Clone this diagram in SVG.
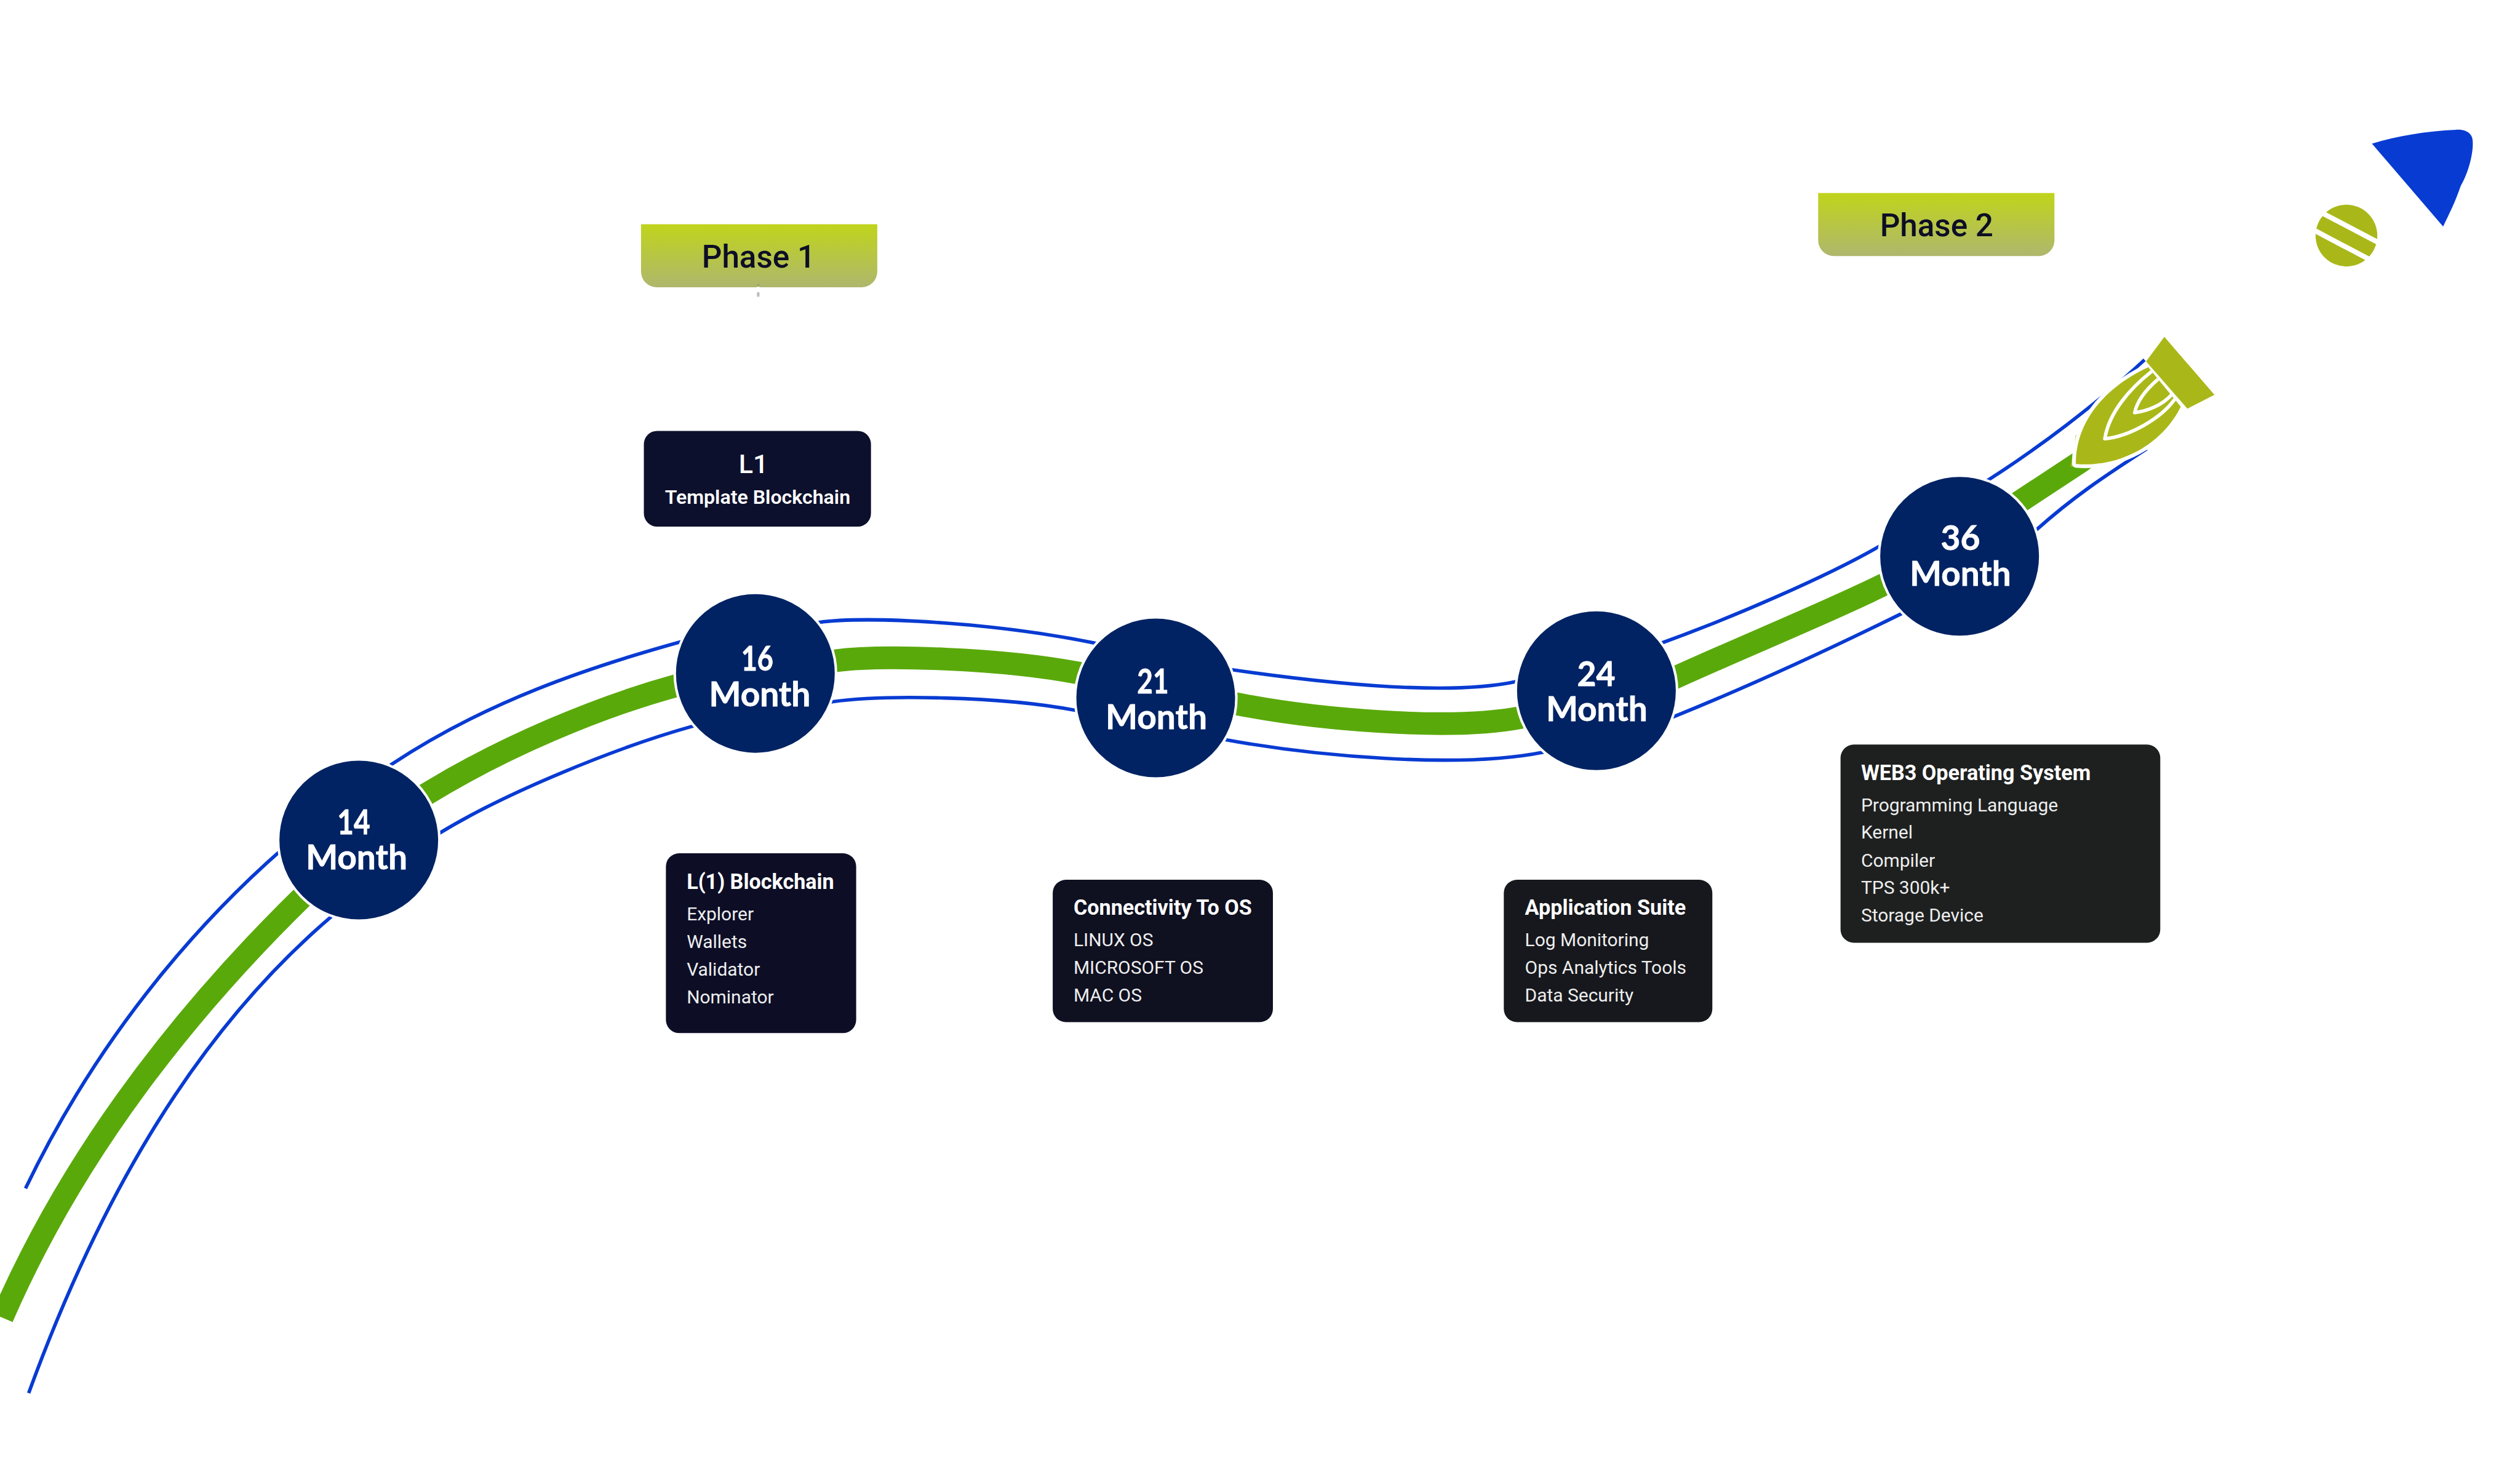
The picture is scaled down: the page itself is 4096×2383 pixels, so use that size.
<svg xmlns="http://www.w3.org/2000/svg" width="4096" height="2383" viewBox="0 0 4096 2383">
<defs>
<linearGradient id="phaseFill" x1="0" y1="0" x2="0" y2="1"><stop offset="0" stop-color="#c0d41b"/><stop offset="1" stop-color="#aeb76d"/></linearGradient>
<path id="phaseShape" d="M0,0H750V150A50,50 0 0 1 700,200H50A50,50 0 0 1 0,150Z" fill="url(#phaseFill)"/>
</defs>
<style>
text{font-family:Roboto,"Liberation Sans",sans-serif}
.blue{fill:none;stroke:#083bd2;stroke-width:11}
.green{fill:none;stroke:#5aa90b;stroke-width:72}
.ext{stroke-linecap:square}
.disc{fill:#012363;stroke:#fff;stroke-width:8}
.m{font-family:Lato,Inter,sans-serif;font-weight:700;font-size:110px;fill:#fff;stroke:#fff;stroke-width:1.500}
.ph{font-weight:500;font-size:100px;fill:#0d0e26;text-anchor:middle}
.t{font-weight:700;font-size:66.700px;fill:#fff}
.b{font-weight:400;font-size:58.500px;fill:#eee}
.olive{fill:#a9b818}
.cut{fill:none;stroke:#fff;stroke-width:11;stroke-linejoin:round}
</style>
<rect width="4096" height="2383" fill="#fff"/>
<g transform="scale(.512)">
<g id="connectors">
<path class="green" d="M7,4183C241.500,3643 609.500,3179 1030,2780"/>
<path class="green ext" d="M1351,2523C1600,2370 1900,2245 2143,2178"/>
<path class="green ext" d="M2650,2098C2800,2078 3180,2090 3425,2137"/>
<path class="green ext" d="M3923,2234C4170,2283 4600,2322 4827,2278"/>
<path class="green ext" d="M5319,2151C5540,2050 5800,1945 5982,1855"/>
<path class="green" d="M6395,1604L6606,1465L6680,1410"/>
<path class="blue" d="M81,3773C313,3289 667,2851 1100,2532"/>
<path class="blue ext" d="M1244,2426C1544,2227 1867,2119 2163,2037"/>
<path class="blue ext" d="M2599,1976C2750,1955 3150,1975 3477,2042"/>
<path class="blue ext" d="M3909,2126C4180,2165 4590,2212 4812,2164"/>
<path class="blue ext" d="M5276,2041C5500,1960 5800,1830 5965,1735"/>
<path class="blue ext" d="M6313,1523C6460,1430 6660,1280 6804,1146"/>
<path class="blue" d="M91,4423C297,3857 594,3300 1052,2910"/>
<path class="blue ext" d="M1397,2644C1600,2520 1950,2375 2201,2305"/>
<path class="blue ext" d="M2642,2228C2800,2205 3180,2210 3413,2255"/>
<path class="blue ext" d="M3889,2348C4170,2400 4630,2442 4899,2388"/>
<path class="blue ext" d="M5314,2275C5550,2180 5830,2050 6037,1948"/>
<path class="blue ext" d="M6465,1682C6590,1570 6700,1500 6810,1428"/>
</g>
<g id="month-14"><circle class="disc" cx="1139" cy="2667" r="256"/><text class="m" x="1071" y="2649" textLength="104" lengthAdjust="spacingAndGlyphs">14</text><text class="m" x="971" y="2760" textLength="322" lengthAdjust="spacingAndGlyphs">Month</text></g>
<g id="month-16"><circle class="disc" cx="2398" cy="2138" r="256"/><text class="m" x="2353" y="2129" textLength="102" lengthAdjust="spacingAndGlyphs">16</text><text class="m" x="2251" y="2242" textLength="322" lengthAdjust="spacingAndGlyphs">Month</text></g>
<g id="month-21"><circle class="disc" cx="3669" cy="2216" r="256"/><text class="m" x="3610" y="2202" textLength="100" lengthAdjust="spacingAndGlyphs">21</text><text class="m" x="3510" y="2315" textLength="322" lengthAdjust="spacingAndGlyphs">Month</text></g>
<g id="month-24"><circle class="disc" cx="5068" cy="2193" r="256"/><text class="m" x="5007" y="2177" textLength="121" lengthAdjust="spacingAndGlyphs">24</text><text class="m" x="4908" y="2289" textLength="322" lengthAdjust="spacingAndGlyphs">Month</text></g>
<g id="month-36"><circle class="disc" cx="6221" cy="1766" r="256"/><text class="m" x="6161" y="1747" textLength="125" lengthAdjust="spacingAndGlyphs">36</text><text class="m" x="6063" y="1860" textLength="321" lengthAdjust="spacingAndGlyphs">Month</text></g>
<g id="phase-1"><use href="#phaseShape" x="2035" y="712"/><text class="ph" x="2408" y="849">Phase 1</text><rect x="2403" y="902" width="8" height="8" fill="#a0a862"/><rect x="2403" y="910" width="8" height="18" fill="#fff"/><rect x="2403" y="928" width="8" height="14" fill="#bbb"/></g>
<g id="phase-2"><use href="#phaseShape" x="5772" y="613"/><text class="ph" x="6148" y="750">Phase 2</text></g>
<g id="box-l1"><rect x="2044" y="1368" width="721" height="304" rx="42" fill="#0d102c"/><text x="2392" y="1501" text-anchor="middle" font-size="84" font-weight="500" fill="#fff">L1</text><text x="2405" y="1600" text-anchor="middle" font-size="62.700" font-weight="600" fill="#fff">Template Blockchain</text></g>
<g id="box-blockchain"><rect x="2114" y="2709" width="604" height="571" rx="42" fill="#0d0e26"/><text class="t" x="2180" y="2822">L(1) Blockchain</text><text class="b" x="2180" y="2922">Explorer</text><text class="b" x="2180" y="3009">Wallets</text><text class="b" x="2180" y="3097">Validator</text><text class="b" x="2180" y="3185">Nominator</text></g>
<g id="box-connectivity"><rect x="3342" y="2793" width="699" height="452" rx="42" fill="#0f1020"/><text class="t" x="3408" y="2905">Connectivity To OS</text><text class="b" x="3408" y="3004">LINUX OS</text><text class="b" x="3408" y="3092">MICROSOFT OS</text><text class="b" x="3408" y="3179">MAC OS</text></g>
<g id="box-application"><rect x="4774" y="2793" width="662" height="452" rx="42" fill="#17181d"/><text class="t" x="4841" y="2905">Application Suite</text><text class="b" x="4841" y="3004">Log Monitoring</text><text class="b" x="4841" y="3092">Ops Analytics Tools</text><text class="b" x="4841" y="3179">Data Security</text></g>
<g id="box-web3"><rect x="5843" y="2364" width="1015" height="629" rx="42" fill="#1e2020"/><text class="t" x="5908" y="2476">WEB3 Operating System</text><text class="b" x="5908" y="2576">Programming Language</text><text class="b" x="5908" y="2663">Kernel</text><text class="b" x="5908" y="2751">Compiler</text><text class="b" x="5908" y="2838">TPS 300k+</text><text class="b" x="5908" y="2926">Storage Device</text></g>
<g id="rocket">
<polygon class="olive" points="6590,1380 6573,1481 6625,1484 6640,1460 6600,1400"/>
<path class="olive" d="M6590,1473C6588,1360 6660,1240 6820,1166L6923,1291C6865,1410 6730,1485 6590,1473Z" stroke="#fff" stroke-width="24" stroke-linejoin="round" paint-order="stroke"/>
<path class="cut" d="M6831,1179C6760,1235 6695,1310 6682,1393C6760,1385 6860,1330 6905,1266"/>
<path class="cut" d="M6851,1204C6815,1235 6785,1270 6777,1310C6820,1305 6865,1285 6894,1253"/>
<polygon class="olive" points="6871,1069.500 7030,1253.500 6944,1297.500 6813,1147.500"/>
</g>
<g id="ball"><circle class="olive" cx="7449" cy="748" r="98"/><path d="M7360,670L7560,775M7335,725L7530,828" fill="none" stroke="#fff" stroke-width="16"/></g>
<path id="wedge" d="M7530,456C7610,432 7700,416 7796,412C7830,410 7850,424 7850,450C7852,490 7835,550 7812,590C7795,640 7775,680 7756,719Z" fill="#083bd2"/>
</g>
</svg>
